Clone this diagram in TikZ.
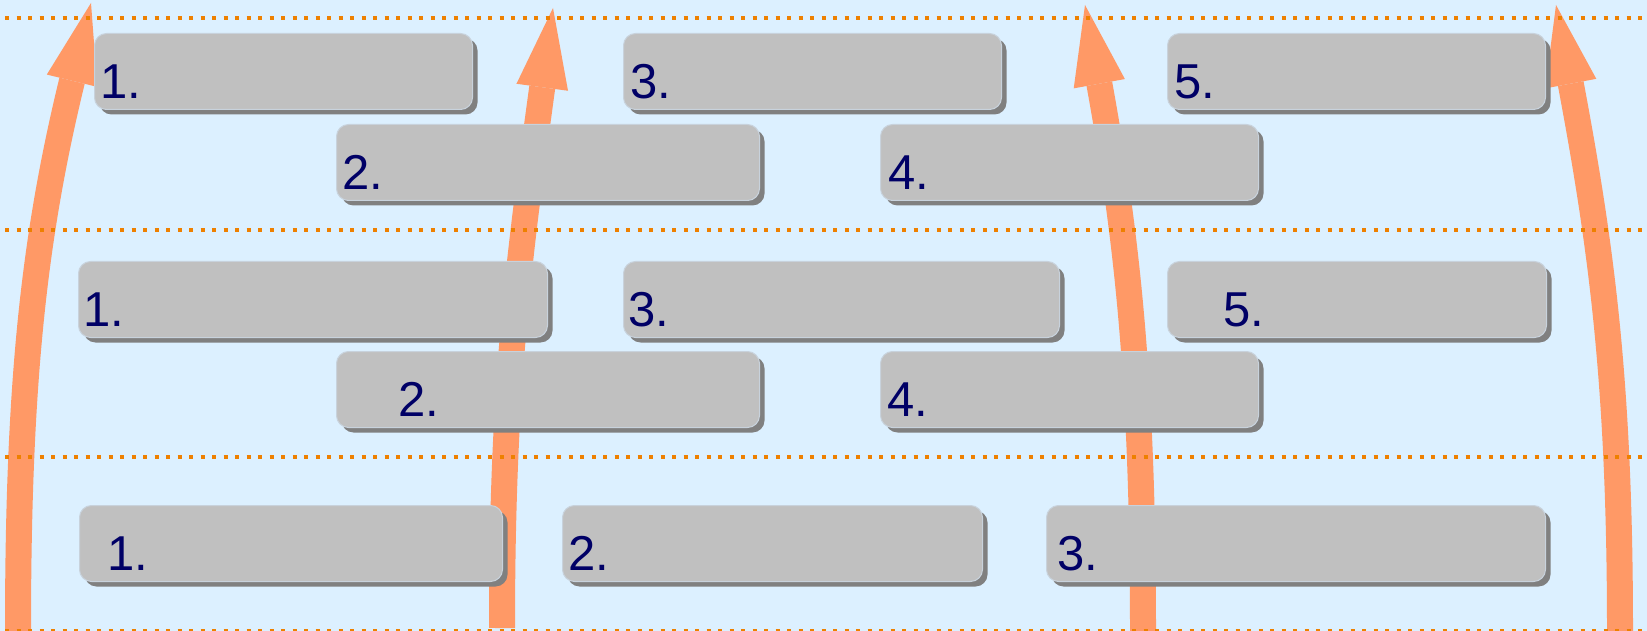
\documentclass[tikz,border=0pt]{standalone}
\usepackage{fontspec}
\setmainfont{Liberation Sans}
\usetikzlibrary{arrows.meta,shadows}
\definecolor{skyback}{RGB}{220,240,255}
\definecolor{roworange}{RGB}{238,128,0}
\definecolor{flowpeach}{RGB}{255,153,102}
\definecolor{boxgray}{RGB}{192,192,192}
\definecolor{boxshade}{RGB}{128,128,128}
\definecolor{boxedge}{RGB}{200,210,220}
\definecolor{labelnavy}{RGB}{0,0,102}
\newcommand\listbox[6]{% name, left, top, width, indent, label
	\pgfmathsetmacro\listboxtw{#4-2*#5}%
	\node[itembox,inner xsep=#5pt,text width=\listboxtw pt] (#1) at (#2,#3) {#6};}

\begin{document}
\begin{tikzpicture}[x=1pt,y=-1pt,
	itembox/.style={draw=boxedge,line width=1pt,fill=boxgray,rounded corners=12pt,anchor=north west,
		inner ysep=0pt,text height=65pt,text depth=11pt,align=left,text=labelnavy,
		font=\fontsize{49}{52}\selectfont,
		drop shadow={shadow xshift=5pt,shadow yshift=-5pt,fill=boxshade,opacity=1}},
	flowarrow/.style={draw=flowpeach,line width=26pt,-{Triangle[width=52pt,length=80pt,line width=0pt]}},
	rowline/.style={draw=roworange,line width=4.5pt,dash pattern=on 4pt off 7.5pt}]
	\fill[skyback] (0,0) rectangle (1647,631);
	\useasboundingbox (0,0) rectangle (1647,631);

	\coordinate (a1s) at (18,631);   \coordinate (a1e) at (91,3);
	\coordinate (a2s) at (502,628);  \coordinate (a2e) at (553,8);
	\coordinate (a3s) at (1143,631); \coordinate (a3e) at (1085,5);
	\coordinate (a4s) at (1620,631); \coordinate (a4e) at (1556,5);
	\draw[flowarrow] (a1s) .. controls +(0,-250) and +(-57,234) .. (a1e);
	\draw[flowarrow] (a2s) .. controls +(0,-250) and +(-33,243) .. (a2e);
	\draw[flowarrow] (a3s) .. controls +(0,-250) and +(42,231) .. (a3e);
	\draw[flowarrow] (a4s) .. controls +(0,-250) and +(45,240) .. (a4e);

	\foreach \y in {18,230,457,631}
		\draw[rowline] (5,\y) -- (1647,\y);

	% top block
	\listbox{t1}{94}{33}{378}{6}{1.}
	\listbox{t3}{623}{33}{378}{7}{3.}
	\listbox{t5}{1167}{33}{378}{7}{5.}
	\listbox{t2}{336}{124}{423}{6}{2.}
	\listbox{t4}{880}{124}{378}{8}{4.}
	% middle block
	\listbox{m1}{78}{261}{469}{5}{1.}
	\listbox{m3}{623}{261}{436}{5}{3.}
	\listbox{m5}{1167}{261}{379}{56}{5.}
	\listbox{m2}{336}{351}{423}{62}{2.}
	\listbox{m4}{880}{351}{378}{7}{4.}
	% bottom block
	\listbox{b1}{79}{505}{423}{28}{1.}
	\listbox{b2}{562}{505}{420}{6}{2.}
	\listbox{b3}{1046}{505}{499}{11}{3.}
\end{tikzpicture}
\end{document}
